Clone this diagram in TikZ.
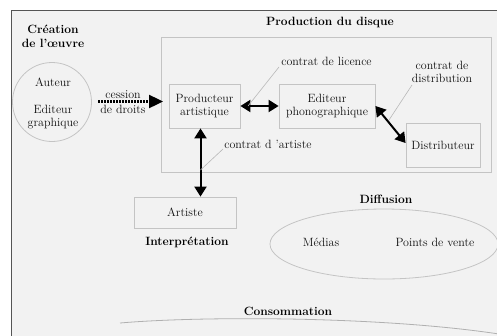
\documentclass[tikz,border=0pt]{standalone}
\usepackage{fontspec}
\usetikzlibrary{arrows.meta,calc,shapes.geometric}
\definecolor{bgfill}{HTML}{F2F2F2}
\definecolor{framecol}{HTML}{555555}
\definecolor{boxcol}{HTML}{C4C4C4}
\definecolor{leadcol}{HTML}{B8B8B8}
\definecolor{txtcol}{HTML}{111111}
\tikzset{
  base/.style={font=\fontsize{12}{13.5}\selectfont, text=txtcol, inner sep=0pt},
  title/.style={base, font=\fontsize{12}{13.5}\selectfont\bfseries, text=black},
  actor/.style={base, draw=boxcol, line width=0.8pt, align=center},
  lbl/.style={base, align=center},
  leader/.style={draw=leadcol, line width=0.6pt},
  flow/.style={line width=2pt, {Triangle[length=10pt,width=12pt]}-{Triangle[length=10pt,width=12pt]}},
  cession/.style={line width=2.4pt, dash pattern=on 1.5pt off 1.5pt, -{Triangle[length=14pt,width=13pt]}}
}
\begin{document}
\begin{tikzpicture}[x=1pt,y=-1pt]
\clip (0,0) rectangle (497,335);
\fill[white] (0,0) rectangle (497,335);
% outer frame
\draw[framecol, line width=1.4pt, fill=bgfill] (11.5,10.5) rectangle (530,360);

% creation of the work
\node[title, align=center] (creat) at (53,36.5) {Création\\de l'œuvre};
\node[draw=boxcol, line width=0.8pt, circle, minimum size=79pt, inner sep=0pt] (oeuvre) at (52,102) {};
\node[lbl] (auteur) at (53,82) {Auteur};
\node[lbl] (edgraph) at (53,117) {Editeur\\graphique};

% record production
\node[title] (prodtitle) at (330,22) {Production du disque};
\node[draw=boxcol, line width=0.8pt, minimum width=330pt, minimum height=135pt, inner sep=0pt] (prodbox) at (326,104.5) {};
\node[actor, minimum width=71pt, minimum height=44pt] (prod) at (204.5,106) {Producteur\\artistique};
\node[actor, minimum width=96pt, minimum height=44pt] (edit) at (327,106) {Editeur\\phonographique};
\node[actor, minimum width=74pt, minimum height=44pt] (dist) at (443,145) {Distributeur};

% performance
\node[actor, minimum width=102pt, minimum height=31pt] (artiste) at (185,212.5) {Artiste};
\node[title] (interp) at (187,242) {Interprétation};

% broadcasting
\node[title] (diff) at (386,199) {Diffusion};
\node[draw=boxcol, line width=0.8pt, ellipse, minimum width=228pt, minimum height=70pt, inner sep=0pt] (diffell) at (384,244) {};
\node[lbl] (medias) at (321,242) {Médias};
\node[lbl] (pdv) at (435,242) {Points de vente};

% consumption
\node[title] (conso) at (288,311) {Consommation};
\coordinate (consoL) at (120,323);
\coordinate (consoR) at (499,334);
\draw[boxcol!90!black, line width=0.8pt] (consoL) .. controls (200,316) and (380,316) .. (consoR);

% rights transfer
\node[lbl, font=\fontsize{12}{15}\selectfont] (cession) at (123,102.5) {cession\\de droits};
\coordinate (cesA) at (98,101.5);
\coordinate (cesB) at (163,101.5);
\draw[cession] (cesA) -- (cesB);

% contracts
\draw[flow] (prod.east) -- (edit.west);
\draw[flow] (edit.east) -- ($(dist.west)+(0,-2)$);
\coordinate (vx) at (200.5,0);
\draw[flow] (prod.south -| vx) -- (artiste.north -| vx);

% contract labels and their leaders
\node[lbl] (clic) at (326.5,61) {contrat de licence};
\coordinate (clicEnd) at (248,106);
\draw[leader] (279,67) -- (clicEnd);

\node[lbl] (cdist) at (442,72) {contrat de\\distribution};
\coordinate (cdistEnd) at (389,120);
\draw[leader] (412,85) -- (cdistEnd);

\node[lbl] (cart) at (268,144) {contrat d 'artiste};
\coordinate (cartEnd) at (200.5,170);
\draw[leader] (223,149) -- (cartEnd);
\end{tikzpicture}
\end{document}
